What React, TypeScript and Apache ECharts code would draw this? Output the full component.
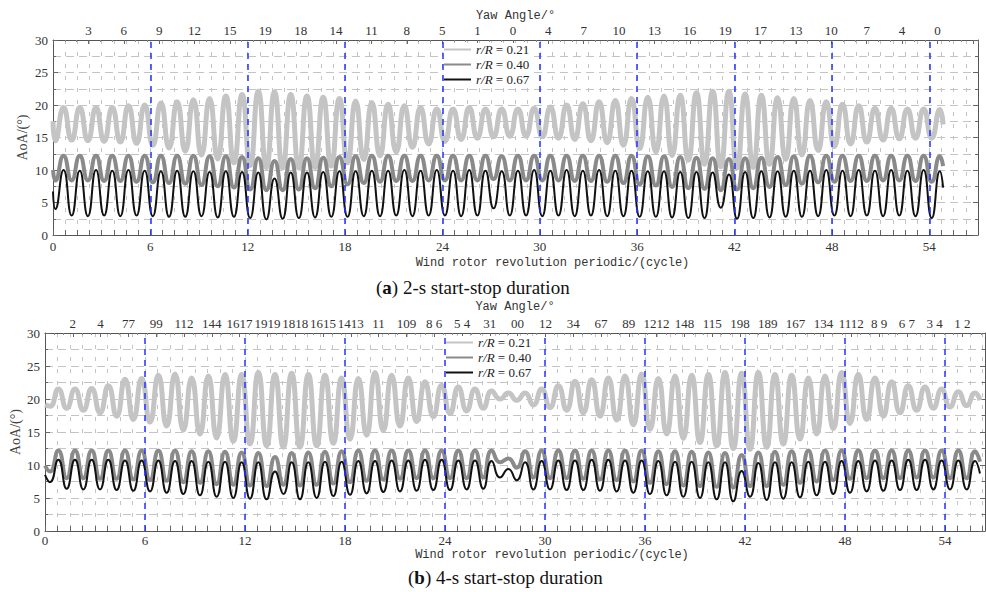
import React, { useEffect, useRef } from "react";
import * as echarts from "echarts";

// ---------- data ----------
const seriesNames = ["r/R = 0.21", "r/R = 0.40", "r/R = 0.67"];

// panel (a): 2-s start-stop duration — yaw-angle labels on top axis
const yawA = ["3","6","9","12","15","19","18","14","11","8","5","1","0","4","7","10","13","16","19","17","13","10","7","4","0"];
// panel (b): 4-s start-stop duration — (overlapping) yaw-angle labels on top axis
const yawB = ["2","4","77","99","112","144","1617","1919","1818","1615","1413","11","109","8 6","5 4","31","00","12","34","67","89","1212","148","115","198","189","167","134","1112","8 9","6 7","3 4","1 2"];

const cycleLines = [6, 12, 18, 24, 30, 36, 42, 48, 54];

// panel (a) per-cycle troughs and peaks
const lightAPeaks = [19.6,19.6,19.6,19.6,19.9,20.0,20.3,20.5,20.8,21.0,21.4,21.6,22.1,22.0,21.6,21.4,21.2,21.0,20.6,20.4,20.1,19.9,19.6,19.4,19.4,19.6,19.4,
  19.4,19.4,19.5,19.7,20.0,20.2,20.5,20.7,21.0,21.2,21.4,21.5,21.9,22.1,22.1,21.7,21.5,21.1,21.0,20.7,20.5,20.1,19.9,19.5,19.5,19.4,19.4,19.3];
const lightATroughs = [14.5,14.6,14.5,14.4,14.3,14.1,13.8,13.4,12.9,12.3,11.7,11.1,10.7,10.4,10.3,10.3,10.4,10.6,11.1,11.6,12.2,12.8,13.5,14.0,14.4,14.7,14.9,
  15.1,15.2,15.2,15.1,14.9,14.7,14.5,14.2,13.8,13.3,12.8,12.2,11.5,10.9,10.5,10.3,10.4,10.9,11.6,12.3,13.0,13.6,14.0,14.3,14.6,14.8,14.9,14.9];
const midAPeaks = [12.2,12.2,12.2,12.2,12.2,12.2,12.2,12.2,12.2,12.1,12.1,12.0,11.8,11.4,11.7,11.8,11.9,12.0,12.1,12.2,12.2,12.2,12.2,12.2,12.2,12.2,12.2,
  12.1,12.2,12.2,12.2,12.2,12.2,12.2,12.2,12.2,12.1,12.1,12.0,11.9,11.8,11.7,11.8,11.9,12.0,12.1,12.2,12.2,12.2,12.2,12.2,12.2,12.2,12.2,12.1];
const midATroughs = [8.4,8.4,8.4,8.3,8.3,8.2,8.1,8.0,7.9,7.7,7.5,7.3,7.0,6.9,6.9,7.0,7.2,7.5,7.8,8.0,8.2,8.3,8.3,8.4,8.4,8.4,8.4,
  8.6,8.4,8.4,8.4,8.4,8.3,8.3,8.2,8.0,7.8,7.6,7.4,7.2,7.1,6.9,7.0,7.2,7.4,7.7,7.9,8.1,8.2,8.3,8.3,8.4,8.4,8.3,8.2];
const blackAPeaks = [10.0,9.9,10.0,9.9,10.0,9.9,9.8,9.9,9.8,9.7,9.8,9.7,9.6,8.7,9.6,9.6,9.7,9.8,9.8,9.9,9.9,10.0,9.9,10.0,9.9,10.0,9.9,
  9.8,9.9,10.0,9.9,10.0,9.9,10.0,9.9,9.9,9.8,9.8,9.7,9.7,9.6,9.3,9.7,9.8,9.8,9.9,9.9,10.0,9.9,10.0,9.9,10.0,9.9,10.0,9.8];
const blackATroughs = [4.0,3.0,2.9,3.0,2.9,3.0,2.9,2.8,2.8,2.9,2.7,2.8,2.6,2.4,2.5,2.6,2.7,2.8,2.8,2.9,2.9,3.0,2.9,3.0,3.0,2.9,3.0,
  4.1,3.0,3.0,2.9,3.0,2.9,3.0,2.9,2.9,2.8,2.8,2.7,2.6,2.6,4.2,2.5,2.6,2.7,2.8,2.8,2.9,3.0,2.9,3.0,2.9,3.0,2.9,2.6];
const startA = [17.5, 10.0, 6.7];
const endA = [17.0, 10.6, 7.3];

// panel (b) per-cycle troughs and peaks
const lightBPeaks = [21.5,21.5,21.6,22.0,23.0,23.1,23.6,23.8,23.2,23.5,23.7,23.7,24.0,23.7,23.9,23.7,23.6,23.2,23.1,24.0,23.6,23.2,22.6,22.1,21.8,21.5,21.2,
  20.9,20.9,21.5,22.0,22.7,22.9,23.2,23.5,23.8,23.1,23.5,23.6,23.7,24.0,23.9,24.0,23.7,23.6,23.2,23.5,24.0,23.7,23.2,22.6,22.0,21.8,21.5,21.1,20.9];
const lightBTroughs = [18.9,18.6,18.3,17.9,17.4,16.9,16.5,15.9,15.3,14.7,14.1,13.6,13.2,12.9,12.7,12.7,12.9,13.3,13.9,14.5,15.2,15.9,16.6,17.3,17.8,18.2,18.6,
  20.0,19.8,19.1,18.7,18.3,17.9,17.4,16.8,16.1,15.4,14.7,14.0,13.4,12.9,12.5,12.4,12.7,13.2,13.9,14.7,15.5,16.3,16.9,17.4,17.9,18.3,18.6,18.8,19.0];
const midBPeaks = [12.2,12.2,12.2,12.2,12.2,12.2,12.2,12.2,12.1,12.1,12.0,11.9,11.8,11.2,11.8,11.9,12.0,12.1,12.2,12.2,12.2,12.2,12.2,12.2,12.2,12.2,12.2,
  11.0,12.1,12.2,12.2,12.2,12.2,12.2,12.2,12.2,12.1,12.1,12.0,11.9,11.8,11.5,11.9,12.0,12.1,12.2,12.2,12.2,12.2,12.2,12.2,12.2,12.2,12.2,12.2,12.1];
const midBTroughs = [9.0,8.0,8.0,7.9,7.9,7.8,7.7,7.6,7.4,7.3,7.1,7.0,6.9,6.8,7.0,6.9,7.0,7.2,7.4,7.6,7.8,7.9,8.0,8.0,8.0,8.0,8.1,
  10.4,9.6,8.1,8.0,8.0,7.9,7.8,7.7,7.5,7.3,7.1,6.9,6.8,6.7,6.6,6.8,6.8,7.0,7.3,7.5,7.7,7.9,8.0,8.0,8.0,8.1,8.1,8.0,8.0];
const blackBPeaks = [10.8,10.8,10.8,10.8,10.7,10.7,10.7,10.6,10.6,10.5,10.5,10.4,10.4,9.0,10.4,10.4,10.5,10.5,10.6,10.6,10.7,10.7,10.8,10.8,10.7,10.7,10.6,
  9.4,10.4,10.6,10.7,10.7,10.8,10.8,10.7,10.7,10.6,10.5,10.5,10.4,10.4,9.1,10.3,10.4,10.4,10.5,10.5,10.6,10.6,10.7,10.7,10.8,10.8,10.7,10.7,10.6];
const blackBTroughs = [7.4,6.4,6.3,6.3,6.2,6.1,6.0,5.8,5.6,5.4,5.2,5.0,4.9,4.8,5.6,4.8,5.0,5.3,5.5,5.7,5.9,6.0,6.1,6.2,6.2,6.3,6.4,
  8.1,7.7,6.3,6.3,6.2,6.2,6.1,6.0,5.8,5.6,5.4,5.2,5.0,4.8,4.5,5.2,4.7,4.9,5.1,5.4,5.6,5.8,6.0,6.1,6.2,6.2,6.3,6.3,6.3];
const startB = [19.1, 9.9, 8.5];
const endB = [19.8, 10.5, 8.7];

// ---------- helpers ----------
const serif = "Liberation Serif";
const mono = "Liberation Mono";
const colors = ["#c4c4c4", "#8a8a8a", "#111111"];
const widths = [5, 4, 2];

function wave(start: number, troughs: number[], peaks: number[], end: number, tOff: number, pOff: number, endX: number) {
  const pts: number[][] = [[0, start]];
  for (let i = 0; i < peaks.length; i++) {
    pts.push([i + tOff, troughs[i]]);
    pts.push([i + pOff, peaks[i]]);
  }
  pts.push([endX, end]);
  return pts;
}

function bottomAxis(gridIndex: number, max: number, nameGap: number, labelMargin: number) {
  return {
    type: "value", gridIndex, position: "bottom", min: 0, max, interval: 0.75,
    name: "Wind rotor revolution periodic/(cycle)", nameLocation: "middle", nameGap,
    nameMoveOverlap: false,
    nameTextStyle: { fontFamily: mono, fontSize: 12, color: "#333", padding: [0, 0, 0, 74] },
    axisLine: { show: true, onZero: false, lineStyle: { color: "#555", width: 1 } },
    axisTick: { show: true, inside: true, length: 5, lineStyle: { color: "#666" } },
    axisLabel: {
      showMaxLabel: false, fontFamily: serif, fontSize: 13, color: "#333", margin: labelMargin,
      formatter: (v: number) => (Math.abs(v / 6 - Math.round(v / 6)) < 1e-6 ? String(Math.round(v)) : ""),
    },
    splitLine: { show: true, showMinLine: false, showMaxLine: false, lineStyle: { color: "#c4c4c4", type: [4, 8] } },
  };
}

function topAxis(gridIndex: number, max: number, interval: number, labels: string[], nameGap: number) {
  return {
    type: "value", gridIndex, position: "top", min: 0, max, interval,
    name: "Yaw Angle/°", nameLocation: "middle", nameGap,
    nameMoveOverlap: false,
    nameTextStyle: { fontFamily: mono, fontSize: 12, color: "#333" },
    axisLine: { show: true, onZero: false, lineStyle: { color: "#555", width: 1 } },
    axisTick: { show: true, inside: true, length: 4, lineStyle: { color: "#666" } },
    minorTick: { show: true, splitNumber: 3, length: 2, lineStyle: { color: "#888" } },
    axisLabel: {
      showMaxLabel: false, showMinLabel: false, fontFamily: serif, fontSize: 13, color: "#333", margin: 3,
      formatter: (v: number) => {
        const k = Math.round(v / interval);
        return k >= 1 && k <= labels.length ? labels[k - 1] : "";
      },
    },
    splitLine: { show: false },
  };
}

function leftAxis(gridIndex: number, nameGap: number) {
  return {
    type: "value", gridIndex, position: "left", min: 0, max: 30, interval: 5,
    name: "AoA/(°)", nameLocation: "middle", nameGap,
    nameMoveOverlap: false,
    nameTextStyle: { fontFamily: serif, fontSize: 14, color: "#444" },
    axisLine: { show: true, onZero: false, lineStyle: { color: "#555", width: 1 } },
    axisTick: { show: true, inside: true, length: 5, lineStyle: { color: "#666" } },
    minorTick: { show: true, splitNumber: 2, length: 3, lineStyle: { color: "#666" } },
    axisLabel: { fontFamily: serif, fontSize: 13, color: "#333", margin: 5 },
    splitLine: { show: true, showMinLine: false, showMaxLine: false, lineStyle: { color: "#c4c4c4", type: [8, 5] } },
    minorSplitLine: { show: true, lineStyle: { color: "#c4c4c4", type: [8, 5] } },
  };
}

function rightAxis(gridIndex: number) {
  return {
    type: "value", gridIndex, position: "right", min: 0, max: 30, interval: 5,
    axisLine: { show: true, onZero: false, lineStyle: { color: "#555", width: 1 } },
    axisTick: { show: true, inside: true, length: 5, lineStyle: { color: "#666" } },
    minorTick: { show: true, splitNumber: 2, length: 3, lineStyle: { color: "#666" } },
    axisLabel: { show: false },
    splitLine: { show: false },
  };
}

function legend(left: number, top: number) {
  return {
    data: seriesNames, left, top, orient: "vertical", selectedMode: false,
    itemWidth: 27, itemHeight: 12, itemGap: 2, padding: [0, 3, 0, 0], backgroundColor: "#fff",
    itemStyle: { opacity: 0 },
    textStyle: {
      fontFamily: serif, fontSize: 13, color: "#222",
      rich: { i: { fontFamily: serif, fontSize: 13, fontStyle: "italic", color: "#222" } },
    },
    formatter: (name: string) => "{i|r/R} = " + name.split("= ")[1],
  };
}

function panelSeries(xAxisIndex: number, yAxisIndex: number, data: number[][][]) {
  return data.map((d, i) => ({
    type: "line", name: seriesNames[i], xAxisIndex, yAxisIndex, data: d,
    symbol: "none", smooth: 0.55, z: 2 + i,
    lineStyle: { color: colors[i], width: widths[i] },
    itemStyle: { color: colors[i] },
    ...(i === 2
      ? {
          markLine: {
            silent: true, symbol: "none", z: 6, animation: false,
            label: { show: false },
            lineStyle: { color: "#2233ff", width: 1.5, type: [6, 5] },
            data: cycleLines.map((v) => ({ xAxis: v })),
          },
        }
      : {}),
  }));
}

function caption(letter: string, rest: string, left: number, top: number) {
  return {
    text: "(" + "{b|" + letter + "}) " + rest, left, top, padding: 0,
    textStyle: {
      fontFamily: serif, fontSize: 19, fontWeight: "normal", color: "#111",
      rich: { b: { fontFamily: serif, fontSize: 19, fontWeight: "bold", color: "#111" } },
    },
  };
}

export default function App() {
  const ref = useRef<HTMLDivElement>(null);
  useEffect(() => {
    if (!ref.current) return;
    const chart = echarts.init(ref.current, undefined, { renderer: "svg" });
    const dataA = [
      wave(startA[0], lightATroughs, lightAPeaks, endA[0], 0.15, 0.65, 54.85),
      wave(startA[1], midATroughs, midAPeaks, endA[1], 0.15, 0.65, 54.85),
      wave(startA[2], blackATroughs, blackAPeaks, endA[2], 0.15, 0.65, 54.85),
    ];
    const dataB = [
      wave(startB[0], lightBTroughs, lightBPeaks, endB[0], 0.3, 0.8, 56.1),
      wave(startB[1], midBTroughs, midBPeaks, endB[1], 0.3, 0.8, 56.1),
      wave(startB[2], blackBTroughs, blackBPeaks, endB[2], 0.3, 0.8, 56.1),
    ];
    chart.setOption({
      animation: false,
      backgroundColor: "#fff",
      title: [
        caption("a", "2-s start-stop duration", 376, 278),
        caption("b", "4-s start-stop duration", 408, 568),
      ],
      grid: [
        { left: 53, right: 8, top: 40, height: 195 },
        { left: 44, right: 1, top: 333, height: 198 },
      ],
      xAxis: [
        bottomAxis(0, 57, 22, 5),
        topAxis(0, 57, 2.18, yawA, 18),
        bottomAxis(1, 56.4, 18, 3),
        topAxis(1, 56.4, 1.668, yawB, 20),
      ],
      yAxis: [leftAxis(0, 24), rightAxis(0), leftAxis(1, 23), rightAxis(1)],
      legend: [legend(443, 43), legend(445, 336)],
      series: [...panelSeries(0, 0, dataA), ...panelSeries(2, 2, dataB)],
    });
    return () => chart.dispose();
  }, []);
  return <div ref={ref} style={{ position: "absolute", left: 0, top: 0, width: 986, height: 592 }} />;
}
